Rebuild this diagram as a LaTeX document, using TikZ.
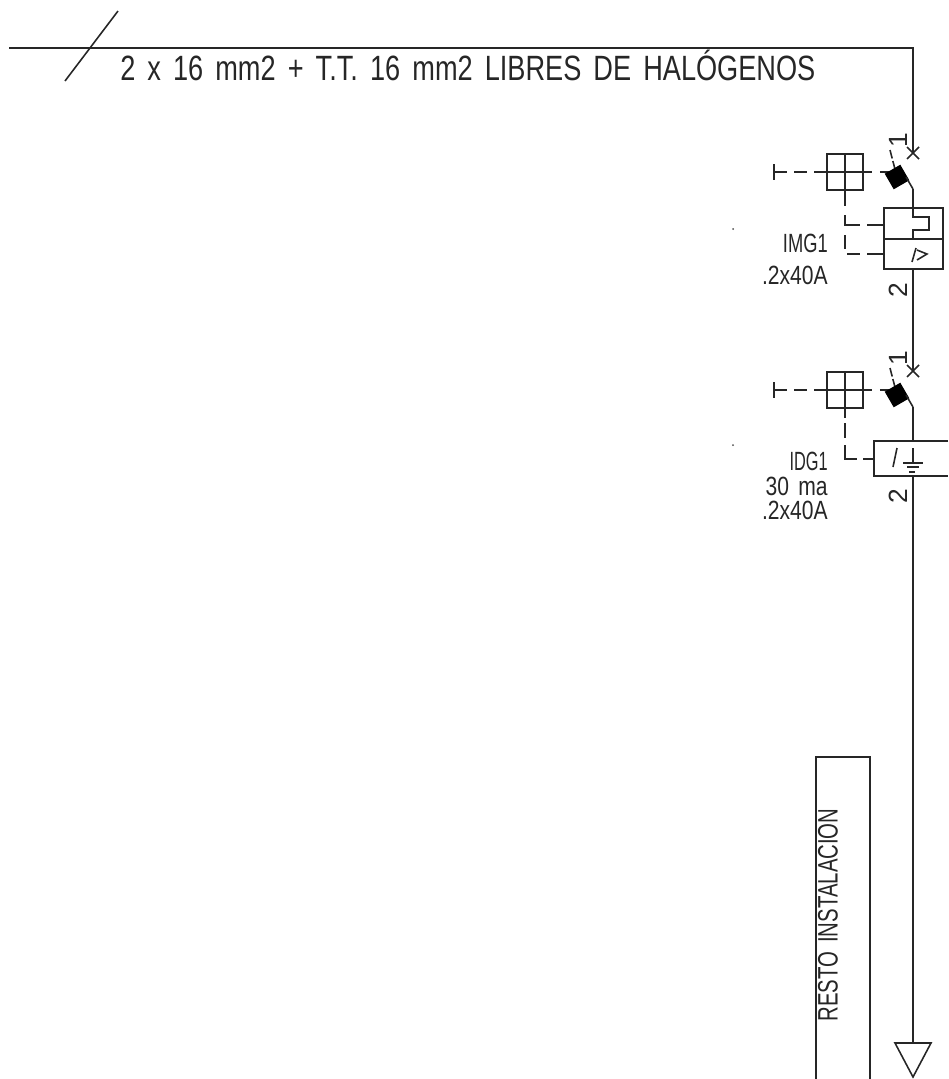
\documentclass[tikz,border=0pt]{standalone}
\usepackage{fontspec}
\setmainfont[WordSpace=1.6]{Liberation Sans}
\usetikzlibrary{calc}
\tikzset{
    wire/.style={line width=1.1pt,black!85},
    ctrl/.style={line width=1.1pt,black!85,dash pattern=on 7.4pt off 4pt},
    thin wire/.style={line width=0.9pt,black!85},
    mando/.style={draw,line width=1.1pt,black!85,minimum size=20.4pt,inner sep=0pt},
    etiqueta/.style={inner sep=0pt,anchor=east,font=\fontsize{15pt}{16pt}\selectfont,text=black!85},
    numero/.style={inner sep=0pt,font=\fontsize{15pt}{16pt}\selectfont,text=black!85,rotate=90},
}
\begin{document}
\begin{tikzpicture}[x=0.02cm,y=-0.02cm]
            \useasboundingbox (0,0) rectangle (948,1079);
            \coordinate (O) at (9,48); %acometida
            \coordinate (E) at (913,48);
            \coordinate (A1) at (913,153);
            \coordinate (B1) at (913,189);
            \coordinate (A2) at (913,371);
            \coordinate (B2) at (913,407);
            \coordinate (T) at (913,1043);
            \draw[wire] (O) -- (E) -- (A1);
            \draw[thin wire] (65,81) -- (118,11);
            \node[anchor=west,inner sep=0pt,font=\fontsize{20pt}{22pt}\selectfont,text=black!85,xscale=0.773] (linea) at (120,65) {2 x 16 mm2 + T.T. 16 mm2 LIBRES DE HALÓGENOS};
            % interruptores
            \foreach \n/\y/\c in {1/172/A1,2/390/A2}{
                \node[mando] (m\n) at (845,\y) {};
                \coordinate (k\n) at (897,\y+5);
                \coordinate (t\n) at (774,\y);
                \draw[wire] (m\n.north) -- (m\n.south);
                \draw[wire] (m\n.west) -- (m\n.east);
                \draw[wire] (m\n.west) -- ++(-11,0);
                \draw[wire] (m\n.east) -- ++(8,0);
                \draw[wire] (t\n) ++(0,-8) -- ++(0,16);
                \draw[ctrl] (t\n) -- ++(41,0);
                \draw[ctrl] ($(m\n.east)+(16,0)$) -- (k\n |- m\n);
                \draw[thin wire,dash pattern=on 5pt off 1.5pt] ($(\c)+(-23,-3)$) -- (k\n);
                \fill[black,rotate around={30:(k\n)}] ($(k\n)-(9,9)$) rectangle ($(k\n)+(9,9)$);
                \draw[thin wire] (\c) ++(-6,-6) -- ++(12,12);
                \draw[thin wire] (\c) ++(6,-6) -- ++(-12,12);
                \draw[thin wire] ($(k\n)+(9,0)$) -- ($(\c)+(0,36)$);
                \node[numero] (uno\n) at ($(\c)+(-15,-13)$) {1};
            }
            % magnetotermico
            \node[draw,wire,minimum width=33.4pt,minimum height=34.3pt,inner sep=0pt] (img) at (913.5,238.5) {};
            \draw[wire] (img.west |- 0,239) -- (img.east |- 0,239);
            \draw[wire] (913,208) -- (913,217) -- (929,217) -- (929,230) -- (913,230) -- (913,239);
            \draw[thin wire] (912,262) -- (916,248);
            \draw[thin wire] (917,250) -- (927,254) -- (917,260);
            \draw[wire] (B1) -- (img.north -| B1);
            \draw[wire] (img.south -| B1) -- (A2);
            \node[numero] (dos1) at (898,290) {2};
            \draw[wire] (m1.south) -- ++(0,15);
            \draw[wire] (845,215) -- (845,225) -- (860,225);
            \draw[wire] (867,225) -- (884,225);
            \draw[wire] (845,235) -- (845,249);
            \draw[wire] (847,254) -- (860,254);
            \draw[wire] (867,254) -- (884,254);
            \node[etiqueta,xscale=0.695] (img1) at (828,243) {IMG1};
            \node[etiqueta,xscale=0.8] (img2) at (828,275) {.2x40A};
            \fill[black!70] (733,229) circle (1);
            % diferencial
            \coordinate (D1) at (874,441);
            \coordinate (D2) at (874,476);
            \draw[wire] (948,441) -- (D1) -- (D2) -- (948,476);
            \draw[wire] (B2) -- (913,441);
            \draw[wire] (913,476) -- (T);
            \draw[thin wire] (897,448) -- (893,467);
            \draw[thin wire] (913,448) -- (913,463);
            \draw[wire] (903,463) -- (923,463);
            \draw[wire] (907,467) -- (919,467);
            \draw[wire] (909,472) -- (915,472);
            \node[numero] (dos2) at (898,496) {2};
            \draw[wire] (m2.south) -- ++(0,9);
            \draw[wire] (845,423) -- (845,438);
            \draw[wire] (845,445) -- (845,459) -- (857,459);
            \draw[wire] (863,459) -- (D1 |- 0,459);
            \node[etiqueta,xscale=0.62] (idg1) at (828,461) {IDG1};
            \node[etiqueta,xscale=0.8] (idg2) at (828,486) {30 ma};
            \node[etiqueta,xscale=0.8] (idg3) at (828,510) {.2x40A};
            \fill[black!70] (733,445) circle (1);
            % salida
            \draw[thin wire] (T) ++(-18,0) -- ++(36,0) -- (913,1077) -- cycle;
            \draw[wire] (870,1079) -- (870,757) -- (816,757) -- (816,1079);
            \node[rotate=90,inner sep=0pt,font=\fontsize{16pt}{18pt}\selectfont,text=black!85,xscale=0.724] (resto) at (828,915) {RESTO INSTALACION};
\end{tikzpicture}
\end{document}
